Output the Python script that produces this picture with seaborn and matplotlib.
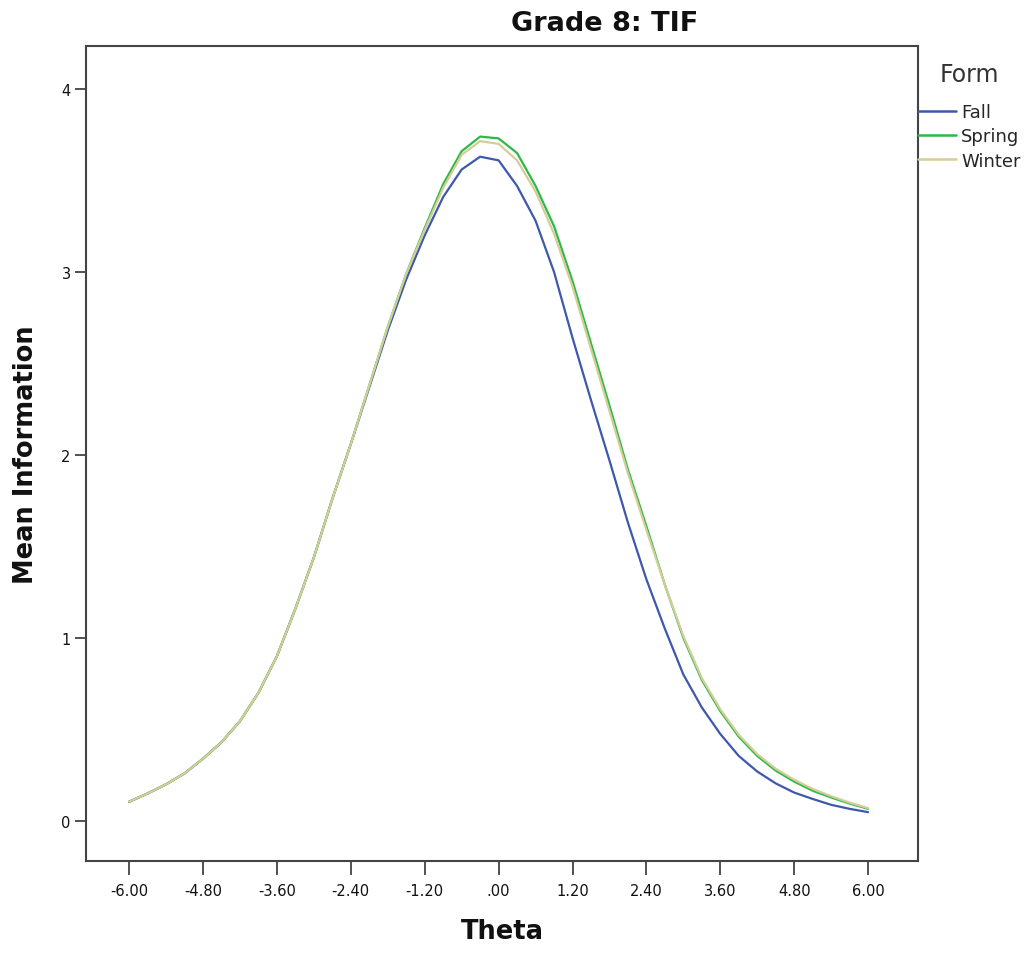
import seaborn as sns
import matplotlib.pyplot as plt
import pandas as pd
import numpy as np

# Data
theta = [-6.0, -5.7, -5.4, -5.1, -4.8, -4.5, -4.2, -3.9, -3.6, -3.3, -3.0,
         -2.7, -2.4, -2.1, -1.8, -1.5, -1.2, -0.9, -0.6, -0.3, 0.0,
         0.3, 0.6, 0.9, 1.2, 1.5, 1.8, 2.1, 2.4, 2.7, 3.0,
         3.3, 3.6, 3.9, 4.2, 4.5, 4.8, 5.1, 5.4, 5.7, 6.0]

fall = [0.105, 0.15, 0.20, 0.26, 0.34, 0.43, 0.545, 0.70, 0.90, 1.16, 1.44,
        1.76, 2.06, 2.37, 2.68, 2.96, 3.20, 3.41, 3.56, 3.63, 3.61,
        3.47, 3.28, 3.00, 2.64, 2.30, 1.97, 1.63, 1.32, 1.05, 0.80,
        0.62, 0.475, 0.355, 0.27, 0.205, 0.155, 0.12, 0.088, 0.066, 0.048]

spring = [0.105, 0.15, 0.20, 0.26, 0.34, 0.43, 0.545, 0.70, 0.90, 1.16, 1.44,
          1.76, 2.06, 2.38, 2.70, 2.99, 3.24, 3.48, 3.66, 3.74, 3.73,
          3.65, 3.47, 3.25, 2.95, 2.61, 2.27, 1.92, 1.61, 1.29, 1.00,
          0.77, 0.60, 0.46, 0.355, 0.275, 0.215, 0.165, 0.128, 0.095, 0.066]

winter = [0.105, 0.15, 0.20, 0.26, 0.34, 0.43, 0.545, 0.70, 0.90, 1.16, 1.44,
          1.76, 2.06, 2.38, 2.70, 2.99, 3.23, 3.46, 3.64, 3.715, 3.70,
          3.61, 3.44, 3.21, 2.92, 2.58, 2.24, 1.90, 1.59, 1.29, 1.01,
          0.78, 0.61, 0.47, 0.365, 0.285, 0.225, 0.175, 0.135, 0.10, 0.07]

forms = ['Fall', 'Spring', 'Winter']
colors = ['#3E58AC', '#2EB848', '#D3CE97']
xticks = [-6.0, -4.8, -3.6, -2.4, -1.2, 0.0, 1.2, 2.4, 3.6, 4.8, 6.0]
xtick_labels = ['-6.00', '-4.80', '-3.60', '-2.40', '-1.20', '.00',
                '1.20', '2.40', '3.60', '4.80', '6.00']
yticks = [0, 1, 2, 3, 4]

df = pd.DataFrame({
    'Theta': theta * 3,
    'Mean Information': fall + spring + winter,
    'Form': ['Fall'] * len(theta) + ['Spring'] * len(theta) + ['Winter'] * len(theta),
})

sns.set_style('white')
plt.rcParams['font.family'] = ['DejaVu Sans']

fig = plt.figure(figsize=(10.34, 9.54), dpi=100)
ax = fig.add_axes([86 / 1034, 1 - 862 / 954, (918 - 86) / 1034, (862 - 47) / 954])

sns.lineplot(data=df, x='Theta', y='Mean Information', hue='Form',
             hue_order=forms, palette=colors, linewidth=1.6, ax=ax)

ax.set_xlim(-6.70, 6.81)
ax.set_ylim(-0.219, 4.235)
ax.set_xticks(xticks)
ax.set_xticklabels(xtick_labels, fontsize=10.5, color='#111111')
ax.set_yticks(yticks)
ax.set_yticklabels([str(v) for v in yticks], fontsize=10.5, color='#111111')
ax.tick_params(axis='x', bottom=True, direction='out', length=10, width=1.3,
               color='#444444', pad=6)
ax.tick_params(axis='y', left=True, direction='out', length=8, width=1.3,
               color='#444444', pad=3)

for s in ax.spines.values():
    s.set_color('#444444')
    s.set_linewidth(1.5)

ax.set_xlabel('Theta', fontsize=18.5, fontweight='bold', labelpad=14, color='#111111')
ax.set_ylabel('Mean Information', fontsize=18.5, fontweight='bold', labelpad=16,
              color='#111111')

fig.text(605 / 1034, 1 - 24 / 954, 'Grade 8: TIF', ha='center', va='center',
         fontsize=19.5, fontweight='bold', color='#111111')

leg = ax.legend(title='Form', loc='upper left', bbox_to_anchor=(1.0, 0.98),
                frameon=False, fontsize=13, title_fontsize=17,
                handlelength=2.1, handletextpad=0.3, labelspacing=0.35,
                borderaxespad=0.0, borderpad=0.0)
leg._legend_box.sep = 12
leg.get_title().set_color('#333333')
for line in leg.get_lines():
    line.set_linewidth(1.8)

fig.savefig('out.png', dpi=100)
